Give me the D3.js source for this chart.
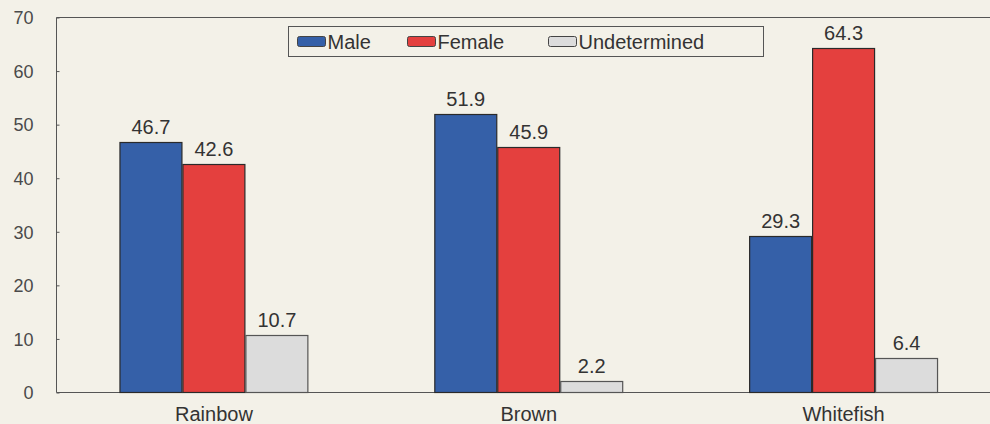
<!DOCTYPE HTML>
<html>
<head>
  <style>
  body {
    margin: 0;
    background: #f3f1e8;
  }
  svg text {
    font-family: Arial, 'Liberation Sans', sans-serif;
    fill: #333;
  }
  .axis path, .axis line {
    stroke: #555;
  }
  </style>
  <script src="https://d3js.org/d3.v7.min.js"></script>
</head>
<body>
  <script type="text/javascript">
  'use strict';
  var categories = ['Rainbow', 'Brown', 'Whitefish'];
  var series = ['Male', 'Female', 'Undetermined'];
  var male = [46.7, 51.9, 29.3];
  var female = [42.6, 45.9, 64.3];
  var undetermined = [10.7, 2.2, 6.4];
  var yTicks = [0, 10, 20, 30, 40, 50, 60, 70];

  var colors = {Male: '#3560a8', Female: '#e4403e', Undetermined: '#dcdcdc'};

  function draw() {
    var width = 990,
        height = 424,
        left = 56.5,
        top = 17.5,
        bottom = 392.5,
        right = 1001;

    var svg = d3.select('body')
                .append('svg')
                .attr('width', width)
                .attr('height', height);

    svg.append('rect')
       .attr('width', width)
       .attr('height', height)
       .attr('fill', '#f3f1e8');

    var rows = categories.map(function(c, i) {
      return {cat: c, Male: male[i], Female: female[i], Undetermined: undetermined[i]};
    });

    var x0 = d3.scaleBand()
               .domain(categories)
               .range([left, right])
               .paddingInner(0.4)
               .paddingOuter(0.2);
    var x1 = d3.scaleBand()
               .domain(series)
               .range([0, x0.bandwidth()]);
    var y = d3.scaleLinear()
              .domain([0, 70])
              .range([bottom, top]);

    // frame: top line and left axis
    svg.append('line')
       .attr('x1', left).attr('x2', width)
       .attr('y1', top).attr('y2', top)
       .attr('stroke', '#555');

    var yAxis = d3.axisLeft(y).tickValues(yTicks).tickSize(-3).tickPadding(23);
    var gy = svg.append('g')
       .attr('class', 'axis')
       .attr('transform', 'translate(' + left + ',0)')
       .call(yAxis);
    gy.select('.domain').attr('d', 'M0,' + top + 'V' + bottom);
    gy.selectAll('text')
      .style('font-size', '18px')
      .style('fill', '#4a4a4a')
      .attr('dy', '0.35em');

    var xAxis = d3.axisBottom(x0).tickSize(0).tickPadding(14);
    var gx = svg.append('g')
       .attr('class', 'axis')
       .attr('transform', 'translate(0,' + bottom + ')')
       .call(xAxis);
    gx.select('.domain').attr('d', 'M' + left + ',0H' + width);
    gx.selectAll('text')
      .style('font-size', '20px')
      .style('fill', '#333');

    var groups = svg.selectAll('.grp')
       .data(rows)
       .enter()
       .append('g')
       .attr('class', 'grp')
       .attr('transform', function(d) { return 'translate(' + x0(d.cat) + ',0)'; });

    var cells = groups.selectAll('.cell')
       .data(function(d) { return series.map(function(s) { return {key: s, value: d[s]}; }); })
       .enter()
       .append('g')
       .attr('class', 'cell');

    cells.append('rect')
       .attr('x', function(d) { return x1(d.key) + 0.5; })
       .attr('y', function(d) { return Math.round(y(d.value)) + 0.5; })
       .attr('width', x1.bandwidth() - 1)
       .attr('height', function(d) { return bottom - Math.round(y(d.value)) - 0.5; })
       .attr('fill', function(d) { return colors[d.key]; })
       .attr('stroke', function(d) { return d.key === 'Undetermined' ? '#555' : '#2a2a2a'; })
       .attr('stroke-width', 1.2);

    cells.append('text')
       .attr('x', function(d) { return x1(d.key) + x1.bandwidth() / 2; })
       .attr('y', function(d) { return y(d.value) - 8; })
       .attr('text-anchor', 'middle')
       .style('font-size', '20px')
       .text(function(d) { return d3.format('.1f')(d.value); });

    // legend
    var lx = 288.5, ly = 26.5;
    var itemX = [9, 119, 260];
    var legend = svg.append('g')
       .attr('transform', 'translate(' + lx + ',' + ly + ')');
    legend.append('rect')
       .attr('width', 475)
       .attr('height', 30)
       .attr('fill', 'none')
       .attr('stroke', '#555');
    var items = legend.selectAll('.item')
       .data(series)
       .enter()
       .append('g')
       .attr('class', 'item')
       .attr('transform', function(d, i) { return 'translate(' + itemX[i] + ',0)'; });
    items.append('rect')
       .attr('y', 10)
       .attr('width', 28)
       .attr('height', 10)
       .attr('rx', 2)
       .attr('fill', function(d) { return colors[d]; })
       .attr('stroke', '#444');
    items.append('text')
       .attr('x', 30)
       .attr('y', 22)
       .style('font-size', '20px')
       .text(function(d) { return d; });
  }

  draw();
  </script>
</body>
</html>
